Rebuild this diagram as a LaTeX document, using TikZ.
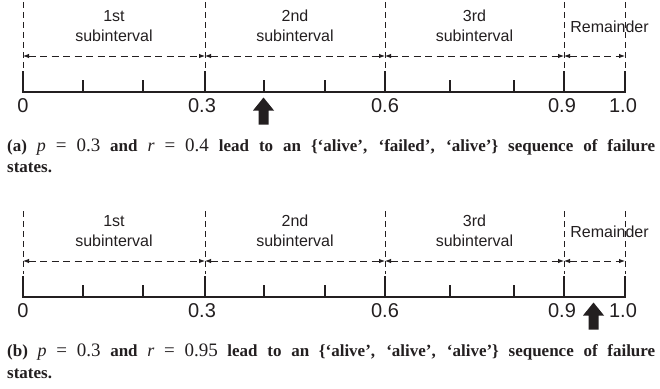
\documentclass[tikz,border=0pt]{standalone}
\usepackage{fontspec}
\setmainfont{Liberation Sans}
\newfontfamily\capfont{Liberation Serif}
\usetikzlibrary{arrows.meta}
\definecolor{ink}{HTML}{231F20}
\newcommand{\mth}[1]{{\mdseries\itshape\fontsize{18}{22}\selectfont #1}}
\newcommand{\rg}[1]{{\mdseries\fontsize{19}{22}\selectfont #1}}
\begin{document}
\begin{tikzpicture}[x=1pt,y=-1pt,
  guide/.style={ink, line width=0.9pt, dash pattern=on 6pt off 4pt},
  span/.style={ink, line width=0.9pt, dash pattern=on 7pt off 4.5pt,
    {Latex[length=6pt,width=4.5pt]}-{Latex[length=6pt,width=4.5pt]}},
  major/.style={ink, line width=2.4pt},
  minor/.style={ink, line width=1.7pt},
  axisline/.style={ink, line width=2.4pt, line cap=rect},
  lbl/.style={font=\fontsize{16}{20}\selectfont, text=ink, align=center, inner sep=0pt},
  num/.style={font=\fontsize{20}{20}\selectfont, text=ink, inner sep=0pt},
  captext/.style={font=\capfont\bfseries\fontsize{17}{21.5}\selectfont, text=ink, anchor=base west, inner sep=0pt},
  blockarrow/.style={fill=ink, draw=none}
]
\useasboundingbox (0,0) rectangle (660,388);

\foreach \pn/\oy/\vt/\ax in {a/0/-8/263.5, b/205/6/593.5}{
\begin{scope}[yshift=-\oy pt]
  % dashed guides and major positions
  \foreach \k/\xx in {0/23, 3/205, 6/385, 9/564, 10/625}{
    \coordinate (\pn g\k) at (\xx,\vt);
    \coordinate (\pn h\k) at (\xx,56);
    \coordinate (\pn t\k) at (\xx,71);
    \coordinate (\pn b\k) at (\xx,92);
    \draw[guide] (\pn g\k) -- (\xx,69);
    \draw[major] (\pn t\k) -- (\pn b\k);
  }
  \foreach \k/\xx in {1/83, 2/143, 4/264, 5/325, 7/450, 8/514}{
    \coordinate (\pn m\k) at (\xx,80);
    \coordinate (\pn b\k) at (\xx,92);
    \draw[minor] (\pn m\k) -- (\pn b\k);
  }
  \draw[axisline] (\pn b0) -- (\pn b10);
  % spans
  \draw[span] (\pn h0) -- (\pn h3);
  \draw[span] (\pn h3) -- (\pn h6);
  \draw[span] (\pn h6) -- (\pn h9);
  \draw[span] (\pn h9) -- (\pn h10);
  % labels
  \node[lbl] (\pn l1) at (114,26) {1st\\subinterval};
  \node[lbl] (\pn l2) at (295,26) {2nd\\subinterval};
  \node[lbl] (\pn l3) at (474.5,26) {3rd\\subinterval};
  \node[lbl] (\pn l4) at (609.5,27) {Remainder};
  \node[num] (\pn n0) at (23,106) {0};
  \node[num] (\pn n3) at (202,106) {0.3};
  \node[num] (\pn n6) at (385,106) {0.6};
  \node[num] (\pn n9) at (562,106) {0.9};
  \node[num] (\pn n10) at (623,106) {1.0};
  % block arrow
  \fill[blockarrow] (\ax,97.5) -- ++(10.5,13) -- ++(-5.5,0) -- ++(0,14) -- ++(-10,0)
     -- ++(0,-14) -- ++(-5.5,0) -- cycle;
\end{scope}
}

\node[captext] (capa) at (7,151) {\vtop{\hsize=648pt
  \noindent\makebox[648pt][s]{(a) \mth{p} \rg{=} \rg{0.3} and \mth{r} \rg{=} \rg{0.4} lead to an \{‘alive’, ‘failed’, ‘alive’\} sequence of failure}\par
  \noindent states.}};
\node[captext] (capb) at (7,356.5) {\vtop{\hsize=648pt
  \noindent\makebox[648pt][s]{(b) \mth{p} \rg{=} \rg{0.3} and \mth{r} \rg{=} \rg{0.95} lead to an \{‘alive’, ‘alive’, ‘alive’\} sequence of failure}\par
  \noindent states.}};
\end{tikzpicture}
\end{document}
